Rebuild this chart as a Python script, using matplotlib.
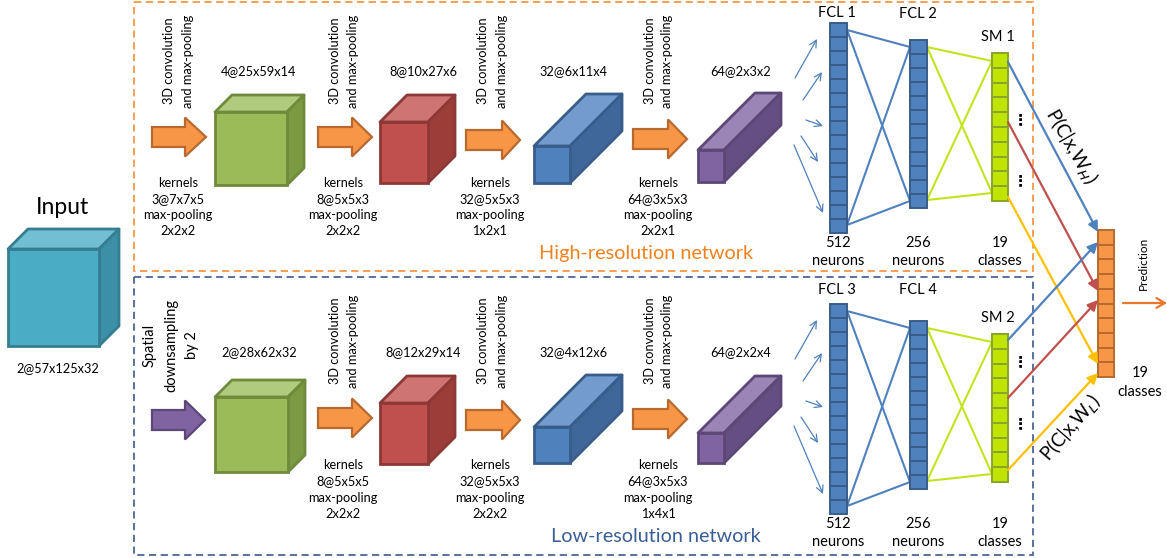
import matplotlib
matplotlib.use("Agg")
import matplotlib.pyplot as plt
from matplotlib.patches import Polygon, Rectangle

plt.rcParams['font.family'] = ['Lato', 'DejaVu Sans']

# ---------------- data (texts / values) ----------------
input_label = "Input"
input_shape = "2@57x125x32"
top_shapes = ["4@25x59x14", "8@10x27x6", "32@6x11x4", "64@2x3x2"]
bottom_shapes = ["2@28x62x32", "8@12x29x14", "32@4x12x6", "64@2x2x4"]
top_kernels = [["kernels", "3@7x7x5", "max-pooling", "2x2x2"],
               ["kernels", "8@5x5x3", "max-pooling", "2x2x2"],
               ["kernels", "32@5x5x3", "max-pooling", "1x2x1"],
               ["kernels", "64@3x5x3", "max-pooling", "2x2x1"]]
bottom_kernels = [None,
                  ["kernels", "8@5x5x5", "max-pooling", "2x2x2"],
                  ["kernels", "32@5x5x3", "max-pooling", "2x2x2"],
                  ["kernels", "64@3x5x3", "max-pooling", "1x4x1"]]
conv_text = ["3D convolution", "and max-pooling"]
down_text = ["Spatial", "downsampling", "by 2"]
fc_names_top = ["FCL 1", "FCL 2", "SM 1"]
fc_names_bottom = ["FCL 3", "FCL 4", "SM 2"]
fc_sizes = ["512", "256", "19"]
fc_units = ["neurons", "neurons", "classes"]
fc_cells = [15, 12, 10]
pred_cells = 10
net_names = ["High-resolution network", "Low-resolution network"]

# ---------------- styles ----------------
C_ORANGE = '#F79646'; E_ORANGE = '#B7692F'
CUBE_COLORS = {
    'input': ('#4BACC6', '#72BFD3', '#3B8FA6', '#357D91'),
    'green': ('#9BBB59', '#B0CA7E', '#7C9A42', '#6F8A3A'),
    'red': ('#C0504D', '#CE7472', '#9C3D3A', '#8C3836'),
    'blue': ('#4F81BD', '#739BCB', '#3F679A', '#385D8A'),
    'purple': ('#8064A2', '#9B84B6', '#654F82', '#5C4776'),
}
FC_FILL = '#4F81BD'; FC_EDGE = '#385D8A'
SM_FILL = '#BFE400'; SM_EDGE = '#8AA528'; SM_LINE = '#C2E41E'
OUT_BLUE = '#4F81BD'; OUT_RED = '#C0504D'; OUT_YEL = '#FFC000'

fig = plt.figure(figsize=(11.67, 5.58), dpi=100)
ax = fig.add_axes([0, 0, 1, 1])
ax.set_xlim(0, 1167)
ax.set_ylim(558, 0)
ax.axis('off')


def cube(x0, x1, y0, y1, d, key):
    front, top, side, edge = CUBE_COLORS[key]
    lw = 2.0
    ax.add_patch(Polygon([(x0, y0), (x0 + d, y0 - d), (x1 + d, y0 - d), (x1, y0)],
                         closed=True, fc=top, ec=edge, lw=lw, joinstyle='round'))
    ax.add_patch(Polygon([(x1, y0), (x1 + d, y0 - d), (x1 + d, y1 - d), (x1, y1)],
                         closed=True, fc=side, ec=edge, lw=lw, joinstyle='round'))
    ax.add_patch(Rectangle((x0, y0), x1 - x0, y1 - y0, fc=front, ec=edge, lw=lw))


def block_arrow(xs, xh, xt, yc, fc=C_ORANGE, ec=E_ORANGE):
    sh, hh = 10, 19.5
    pts = [(xs, yc - sh), (xh, yc - sh), (xh, yc - hh), (xt, yc), (xh, yc + hh),
           (xh, yc + sh), (xs, yc + sh)]
    ax.add_patch(Polygon(pts, closed=True, fc=fc, ec=ec, lw=1.6, joinstyle='miter'))


def column(x0, x1, y0, y1, n, fc, ec):
    h = (y1 - y0) / n
    for i in range(n):
        ax.add_patch(Rectangle((x0, y0 + i * h), x1 - x0, h, fc=fc, ec=ec, lw=1.4))


def small_text(x, y, s, size=9.2, **kw):
    ax.text(x, y, s, ha='center', va='center', fontsize=size, color='black', **kw)


# ---------------- dashed boxes ----------------
ax.add_patch(Rectangle((134, 1.5), 899, 269, fill=False, ec='#F79646', lw=1.3,
                       ls=(0, (4, 2.5))))
ax.add_patch(Rectangle((134, 277), 899, 278, fill=False, ec='#4A6794', lw=1.3,
                       ls=(0, (4, 2.5))))
ax.text(646, 253, net_names[0], ha='center', va='center', fontsize=14.3, color='#F0821E')
ax.text(656, 537, net_names[1], ha='center', va='center', fontsize=14.3, color='#3A5E96')

# ---------------- input ----------------
cube(8, 99, 249, 346, 20, 'input')
ax.text(62, 207, input_label, ha='center', va='center', fontsize=16.5)
small_text(58, 368, input_shape)

# ---------------- conv rows ----------------
top_geo = [(215, 287, 112, 185, 17, 'green'), (380, 428, 122, 183, 27, 'red'),
           (534, 570, 146, 183, 52, 'blue'), (698, 724, 150, 182, 57, 'purple')]
bot_geo = [(215, 288, 397, 472, 17, 'green'), (380, 428, 403, 464, 27, 'red'),
           (534, 570, 427, 463, 52, 'blue'), (698, 724, 433, 463, 57, 'purple')]
top_arrows = [(152, 185, 206, 137), (318, 352, 372, 137), (466, 502, 520, 140),
              (633, 668, 687, 139)]
bot_arrows = [(152, 185, 205, 420), (318, 352, 372, 418), (466, 502, 520, 420),
              (633, 668, 687, 419)]
conv_text_x = [(169, 188), (335, 353), (483, 502), (650, 667)]
kern_x = [178, 343, 490, 658]
shape_x = [259, 423, 573, 741]

for i in range(4):
    cube(*top_geo[i])
    cube(*bot_geo[i])
    block_arrow(*top_arrows[i])
    if i == 0:
        block_arrow(*bot_arrows[i], fc='#8064A2', ec='#5C4776')
    else:
        block_arrow(*bot_arrows[i])
    small_text(shape_x[i], 71, top_shapes[i])
    small_text(shape_x[i], 352, bottom_shapes[i])
    for j, line in enumerate(conv_text):
        small_text(conv_text_x[i][j], 61, line, rotation=90)
        if i > 0:
            small_text(conv_text_x[i][j], 341, line, rotation=90)
    for j, line in enumerate(top_kernels[i]):
        small_text(kern_x[i], 183 + 16 * j, line)
    if bottom_kernels[i] is not None:
        for j, line in enumerate(bottom_kernels[i]):
            small_text(kern_x[i], 465 + 16.3 * j, line)

for j, (line, x) in enumerate(zip(down_text, [150, 171, 192])):
    small_text(x, 345, line, size=10.5, rotation=90)

# ---------------- fully connected parts ----------------
def fc_block(dy, names, name_y, dots_y):
    # small incoming arrows
    arrows = [((795, 78), (817, 39)), ((803, 100), (822, 72)), ((806, 120), (823, 126)),
              ((801, 136), (818, 162)), ((794, 145), (823, 213))]
    for (s, e) in arrows:
        ax.annotate('', xy=(e[0], e[1] + dy), xytext=(s[0], s[1] + dy),
                    arrowprops=dict(arrowstyle='->,head_length=0.5,head_width=0.25',
                                    color='#4F81BD', lw=0.9, shrinkA=0, shrinkB=0))
    # lines FCL a -> FCL b
    for ya in (30, 225):
        for yb in (47, 201):
            ax.plot([847, 910], [ya + dy, yb + dy], color='#4F81BD', lw=1.5, zorder=1)
    for ya in (47, 200):
        for yb in (61, 193):
            ax.plot([927, 992], [ya + dy, yb + dy], color=SM_LINE, lw=1.5, zorder=1)
    cols = [(830, 847, 23, 233), (910, 927, 40, 208), (992, 1008, 53, 201)]
    for k, (x0, x1, y0, y1) in enumerate(cols):
        if k < 2:
            column(x0, x1, y0 + dy, y1 + dy, fc_cells[k], FC_FILL, FC_EDGE)
        else:
            column(x0, x1, y0 + dy, y1 + dy, fc_cells[k], SM_FILL, SM_EDGE)
    for k, x in enumerate([837, 918, 998]):
        ax.text(x, name_y[k], names[k], ha='center', va='center', fontsize=10.5)
    for k, x in enumerate([838, 918, 1000]):
        ax.text(x, 243 + dy, fc_sizes[k], ha='center', va='center', fontsize=10.5)
        ax.text(x, 261 + dy, fc_units[k], ha='center', va='center', fontsize=10.5)
    for y in dots_y:
        ax.text(1020, y, '\u22ee', ha='center', va='center', fontsize=11,
                fontweight='bold', family='DejaVu Sans')


fc_block(0, fc_names_top, [13, 14, 37], [120, 181])
fc_block(281, fc_names_bottom, [290, 290, 318], [362, 424])

# ---------------- prediction ----------------
out_links = [((1008, 62), (1098, 232), OUT_BLUE), ((1008, 122), (1098, 291), OUT_RED),
             ((1008, 197), (1098, 364), OUT_YEL), ((1008, 340), (1098, 242), OUT_BLUE),
             ((1008, 398), (1098, 300), OUT_RED), ((1008, 470), (1098, 373), OUT_YEL)]
for s, e, c in out_links:
    ax.annotate('', xy=e, xytext=s,
                arrowprops=dict(arrowstyle='-|>,head_length=0.6,head_width=0.3',
                                color=c, lw=1.6, shrinkA=0, shrinkB=0))
column(1098, 1114, 230, 377, pred_cells, C_ORANGE, E_ORANGE)
ax.annotate('', xy=(1167, 303), xytext=(1123, 303),
            arrowprops=dict(arrowstyle='->,head_length=0.6,head_width=0.35',
                            color='#E8762C', lw=1.6, shrinkA=0, shrinkB=0))
ax.text(1143, 263, "Prediction", rotation=90, ha='center', va='center', fontsize=8.5)
ax.text(1140, 373, fc_sizes[2], ha='center', va='center', fontsize=10.5)
ax.text(1140, 392, fc_units[2], ha='center', va='center', fontsize=10.5)

ax.text(1071, 146, r"P(C|x,W$_H$)", rotation=-60, ha='center', va='center', fontsize=13.5)
ax.text(1071, 428, r"P(C|x,W$_L$)", rotation=49, ha='center', va='center', fontsize=13.5)

fig.savefig("out.png", dpi=100)
